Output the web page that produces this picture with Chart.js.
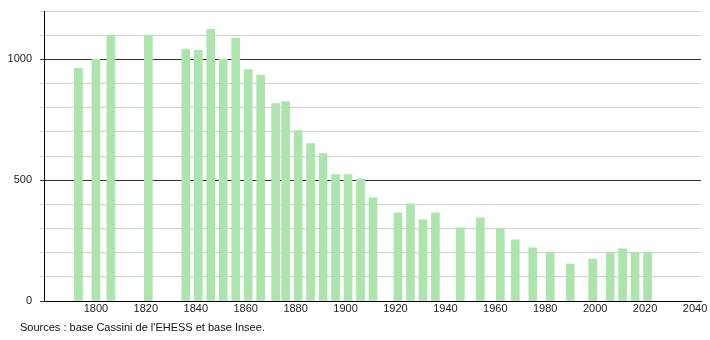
<!DOCTYPE html>
<html>
<head>
<meta charset="utf-8">
<script src="https://cdn.jsdelivr.net/npm/chart.js@4/dist/chart.umd.min.js"></script>
<style>
  body { margin: 0; background: #fff; }
  #wrap { position: relative; width: 710px; height: 340px; }
  #sources { position: absolute; left: 20px; top: 321px; font: 11px "Liberation Sans", Arial, sans-serif; color: #111; }
</style>
</head>
<body>
<div id="wrap">
  <canvas id="graphique" width="710" height="340"></canvas>
  <div id="sources">Sources : base Cassini de l'EHESS et base Insee.</div>
</div>
<script>
// recensements
const annees = [1793, 1800, 1806, 1821, 1836, 1841, 1846, 1851, 1856, 1861, 1866, 1872, 1876,
  1881, 1886, 1891, 1896, 1901, 1906, 1911, 1921, 1926, 1931, 1936, 1946, 1954, 1962,
  1968, 1975, 1982, 1990, 1999, 2006, 2011, 2016, 2021];
const population = [963, 1000, 1100, 1100, 1041, 1037, 1124, 1000, 1087, 958, 934, 817, 825,
  705, 651, 610, 523, 523, 506, 427, 365, 402, 336, 365, 303, 344, 299,
  253, 220, 199, 153, 174, 199, 216, 199, 199];
const ticksMajeurs = [0, 500, 1000];

const vert = "#ade3ad";

new Chart(document.getElementById("graphique"), {
    type: "bar",
    data: {
        datasets: [{
            data: annees.map((a, i) => ({ x: a, y: population[i] })),
            backgroundColor: vert,
            borderWidth: 0,
            barThickness: 8
        }]
    },
    options: {
        responsive: false,
        animation: false,
        layout: { padding: { top: 11, right: 9, bottom: 19, left: 0 } },
        plugins: { legend: { display: false }, tooltip: { enabled: false } },
        scales: {
            x: {
                type: "linear",
                offset: false,
                min: 1779.2,
                max: 2042.4,
                grid: { display: false, drawTicks: false },
                border: { color: "#000", width: 1 },
                ticks: {
                    stepSize: 20,
                    includeBounds: false,
                    padding: 1,
                    color: "#222",
                    font: { family: "Liberation Sans", size: 11 },
                    maxRotation: 0,
                    autoSkip: false,
                    callback: v => (v % 20 === 0 && v >= 1800) ? String(v) : ""
                },
                afterFit: s => { s.height = 20; }
            },
            y: {
                min: 0,
                max: 1200,
                grid: {
                    color: ctx => ticksMajeurs.includes(ctx.tick.value) ? "#333" : "#cfcfcf",
                    tickLength: 4
                },
                border: { color: "#000", width: 1 },
                ticks: {
                    stepSize: 100,
                    padding: 8,
                    color: "#222",
                    font: { family: "Liberation Sans", size: 11 },
                    callback: v => ticksMajeurs.includes(v) ? String(v) : ""
                },
                afterFit: s => { s.width = 44; s.paddingTop = 0; s.paddingBottom = 0; }
            }
        }
    }
});
</script>
</body>
</html>
